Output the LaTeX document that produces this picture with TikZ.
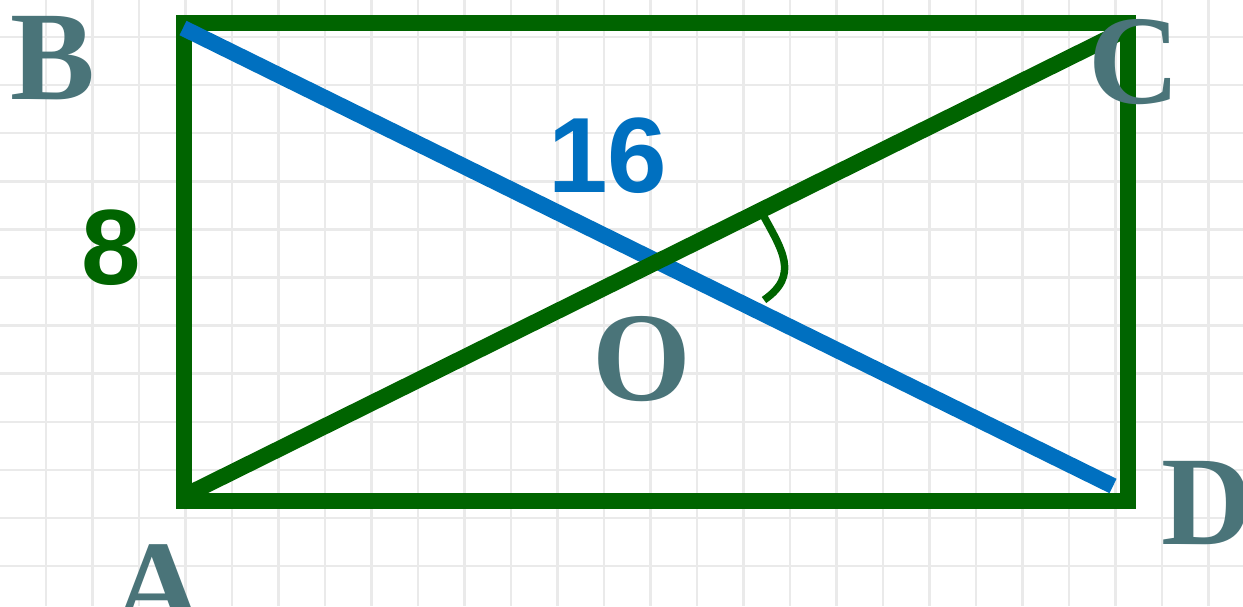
\documentclass[tikz,border=0pt]{standalone}
\usepackage{fontspec}
\newfontfamily\lblserif{Liberation Serif}
\newfontfamily\lblsans{Liberation Sans}
\definecolor{rectgreen}{HTML}{006400}
\definecolor{diagblue}{HTML}{0070C0}
\definecolor{lblgray}{HTML}{4A7479}
\definecolor{gridgray}{HTML}{EAEAEA}
\tikzset{
  gridline/.style={gridgray, line width=2.5pt},
  side/.style={rectgreen, line width=16pt},
  bluediag/.style={diagblue, line width=16pt},
  greendiag/.style={rectgreen, line width=16pt},
  anglemark/.style={rectgreen, line width=7.5pt},
  vertex/.style={lblgray, inner sep=0pt, font=\lblserif\bfseries\fontsize{127}{127}\selectfont},
  measure/.style={inner sep=0pt, font=\lblsans\bfseries\fontsize{107}{107}\selectfont},
}
\begin{document}
\begin{tikzpicture}[x=1pt, y=-1pt]
\useasboundingbox (0,0) rectangle (1243,606);
\fill[white] (0,0) rectangle (1243,606);
% grid
\foreach \i in {0,...,26} {
  \draw[gridline] ({46+46.5*\i},0) -- ({46+46.5*\i},606);
}
\foreach \j in {0,...,12} {
  \draw[gridline] (0,{37+48.1*\j}) -- (1243,{37+48.1*\j});
}
% corners
\coordinate (A) at (184,501);
\coordinate (B) at (184,23);
\coordinate (C) at (1128,23);
\coordinate (D) at (1128,501);
\coordinate (Bd) at (183,28);
\coordinate (Dd) at (1113,486);
\coordinate (Ad) at (186,495);
\coordinate (Cd) at (1119,33);
\coordinate (M1) at (762,213);
\coordinate (M2) at (764,300);
% rectangle
\draw[side, line join=miter] (A) -- (B) -- (C) -- (D) -- cycle;
% diagonals
\draw[bluediag] (Bd) -- (Dd);
\draw[greendiag] (Ad) -- (Cd);
% angle mark
\draw[anglemark] (M1) .. controls (782,250) and (800,275) .. (M2);
% labels
\node[vertex] (lB) at (53,58) {B};
\node[vertex] (lC) at (1134,62) {C};
\node[vertex] (lD) at (1207,503) {D};
\node[vertex] (lA) at (158,587) {A};
\node[vertex] (lO) at (642,359) {O};
\node[measure, text=diagblue] (l16) at (608,156) {16};
\node[measure, text=rectgreen] (l8) at (111,248) {8};
\end{tikzpicture}
\end{document}
